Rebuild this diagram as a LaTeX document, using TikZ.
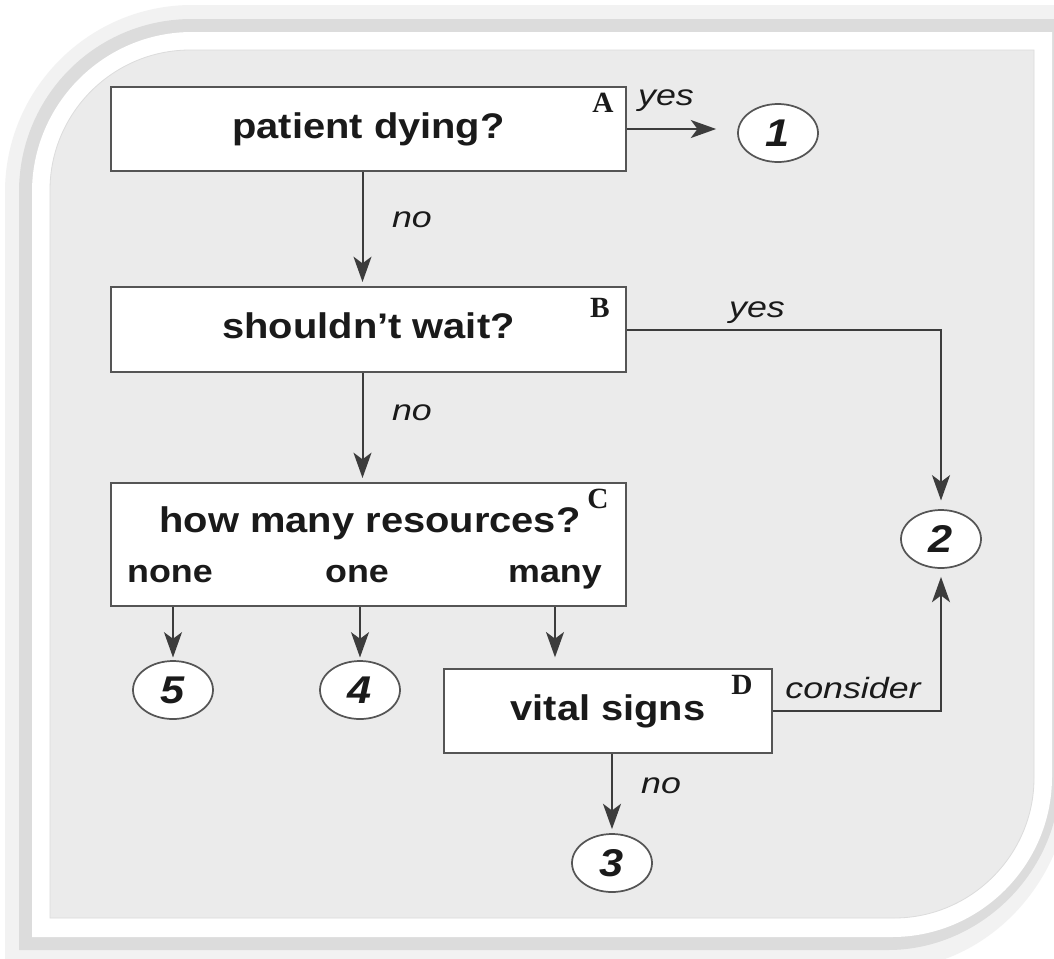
\documentclass[tikz,border=0pt]{standalone}
\usepackage{fontspec}
\setmainfont{Liberation Sans}[FakeStretch=1.12]
\newfontfamily\lblfont{Liberation Sans}[FakeStretch=1.22]
\newfontfamily\letfont{Liberation Serif}
\usetikzlibrary{arrows.meta,shapes.geometric}
\definecolor{innergray}{HTML}{EBEBEB}
\definecolor{shadowdark}{HTML}{DCDCDC}
\definecolor{shadowlight}{HTML}{F2F2F2}
\definecolor{boxgray}{HTML}{555555}
\definecolor{linegray}{HTML}{3C3C3C}
\definecolor{txt}{HTML}{1A1A1A}
\tikzset{
  box/.style={draw=boxgray, line width=1.5pt, fill=white, inner sep=0pt, text=txt,
    font=\bfseries\fontsize{26.7}{30}\selectfont, text height=19pt, text depth=5.5pt},
  circ/.style={ellipse, draw=boxgray, line width=1.3pt, fill=white, minimum width=60pt,
    minimum height=43.5pt, inner sep=0pt, text=txt, font=\bfseries\itshape\fontsize{29}{31}\selectfont},
  lbl/.style={font=\lblfont\itshape\fontsize{22}{24}\selectfont, anchor=base, text=txt, inner sep=0pt},
  ans/.style={font=\bfseries\fontsize{24}{26}\selectfont, anchor=base, text=txt, inner sep=0pt},
  cletter/.style={font=\letfont\bfseries\fontsize{22}{24}\selectfont, anchor=base, text=txt, inner sep=0pt},
  arr/.style={-{Stealth[length=19pt,width=13.5pt,inset=5pt]}, line width=1.5pt, draw=linegray},
  conn/.style={line width=1.5pt, draw=linegray}
}
\begin{document}
\begin{tikzpicture}[x=0.75pt,y=-0.75pt]
\useasboundingbox (0,0) rectangle (1054,958);
\fill[white] (0,0) rectangle (1054,958);
% shadow layers
\fill[shadowlight] (5,970) -- (5,192) .. controls (5,89) and (89,5) .. (192,5) -- (1070,5) -- (1070,777) .. controls (1070,880) and (987,970) .. (884,970) -- cycle;
\fill[shadowdark] (19,950) -- (19,192) .. controls (19,96) and (96,19) .. (192,19) -- (1060,19) -- (1060,777) .. controls (1060,872) and (980,950) .. (888,950) -- cycle;
% white frame
\fill[white] (32,937) -- (32,192) .. controls (32,104) and (104,32) .. (192,32) -- (1052,32) -- (1052,777) .. controls (1052,865) and (980,937) .. (892,937) -- cycle;
% inner gray panel
\filldraw[fill=innergray, draw=shadowdark, line width=0.6pt] (50,918) -- (50,190) .. controls (50,113) and (113,50) .. (190,50) -- (1034,50) -- (1034,778) .. controls (1034,855) and (971,918) .. (894,918) -- cycle;

% boxes
\node[box, minimum width=386.25pt, minimum height=63pt] (A) at (368.5,129) {patient dying?};
\node[box, minimum width=386.25pt, minimum height=63.75pt] (B) at (368.5,329.5) {shouldn’t wait?};
\node[box, minimum width=386.25pt, minimum height=92.25pt] (C) at (368.5,544.5) {};
\node[box, minimum width=246pt, minimum height=63pt] (D) at (608,711) {vital signs};

% texts in C
\node[ans, font=\bfseries\fontsize{26.7}{30}\selectfont] (Cq) at (370,532) {how many resources?};
\node[ans] (non) at (170,582) {none};
\node[ans] (one) at (357,582) {one};
\node[ans] (mny) at (555,582) {many};

% corner letters
\node[cletter] (la) at (603,112) {A};
\node[cletter] (lb) at (600,317) {B};
\node[cletter] (lc) at (598,508) {C};
\node[cletter] (ld) at (742,694) {D};

% circles
\node[circ] (n1) at (778,133) {1};
\node[circ] (n2) at (941,539) {2};
\node[circ] (n3) at (612,863) {3};
\node[circ] (n4) at (360,690) {4};
\node[circ] (n5) at (173,690) {5};

% connectors
\draw[arr, shorten >=15.75pt] (A.east) -- (A.east -| n1.west);
\draw[arr, shorten >=3pt] ([xshift=-4.5pt]A.south) -- ([xshift=-4.5pt]B.north);
\draw[arr, shorten >=3pt] ([xshift=-4.5pt]B.south) -- ([xshift=-4.5pt]C.north);
\draw[arr, shorten >=6.5pt] (B.east) -- (B.east -| n2) -- (n2.north);
\draw[arr, shorten >=2pt] (C.south -| n5) -- (n5.north);
\draw[arr, shorten >=2pt] (C.south -| n4) -- (n4.north);
\draw[arr, shorten >=8pt] (C.south -| mny) -- (D.north -| mny);
\draw[arr, shorten >=3pt] (D.south -| n3) -- (n3.north);
\draw[arr, shorten >=6pt] (D.east) -- (D.east -| n2) -- (n2.south);

% connector labels
\node[lbl] (y1) at (666,105) {yes};
\node[lbl] (no1) at (412,227) {no};
\node[lbl] (y2) at (757,317) {yes};
\node[lbl] (no2) at (412,420) {no};
\node[lbl] (cons) at (853,698) {consider};
\node[lbl] (no3) at (661,793) {no};
\end{tikzpicture}
\end{document}
